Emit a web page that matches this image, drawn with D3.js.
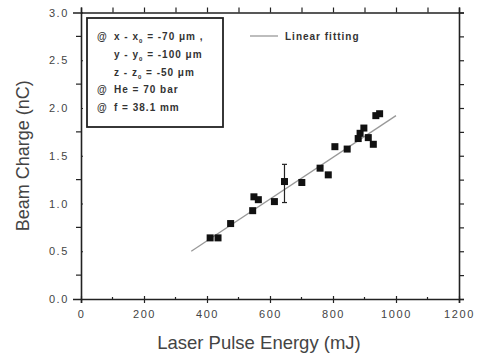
<!DOCTYPE html>
<html>
<head>
<meta charset="utf-8">
<script src="https://cdn.jsdelivr.net/npm/d3@7"></script>
<style>
  body { margin: 0; background: #fff; }
  svg { display: block; }
</style>
</head>
<body>
<div id="vis"></div>
<script>
// measured data (laser energy in mJ, beam charge in nC)
let energy = [410, 435, 475, 545, 549, 563, 614, 646, 701, 759, 785, 806, 845, 880, 886, 898, 912, 928, 936, 948]
let charge = [0.64, 0.64, 0.79, 0.925, 1.07, 1.04, 1.02, 1.23, 1.22, 1.37, 1.30, 1.595, 1.57, 1.68, 1.735, 1.79, 1.69, 1.62, 1.92, 1.94]
// one error bar
let errX = [646]
let errLo = [1.01]
let errHi = [1.41]
// linear fit endpoints
let fitX = [350, 1000]
let fitY = [0.50, 1.92]

let xTicks = [0, 200, 400, 600, 800, 1000, 1200]
let yTicks = [0, 0.5, 1.0, 1.5, 2.0, 2.5, 3.0]
let legendLines = [
  {bullet: true, t: 'x - x', s: '0', r: ' = -70 μm ,'},
  {bullet: false, t: 'y - y', s: '0', r: ' = -100 μm'},
  {bullet: false, t: 'z - z', s: '0', r: ' = -50 μm'},
  {bullet: true, t: 'He = 70 bar', s: '', r: ''},
  {bullet: true, t: 'f = 38.1 mm', s: '', r: ''}
]

let W = 478, H = 355
let margin = {top: 12.5, left: 81, right: 19, bottom: 56}

let svg = d3.select('#vis').append('svg')
  .attr('width', W).attr('height', H)
  .style('font-family', 'Liberation Sans, Arial, sans-serif')

let x = d3.scaleLinear().domain([0, 1200]).range([margin.left, W - margin.right])
let y = d3.scaleLinear().domain([0, 3]).range([H - margin.bottom, margin.top])

let minorX = d3.range(0, 1201, 100)
let minorY = d3.range(0, 3.01, 0.25)
let ink = '#222'
let txt = '#444'

// bottom axis
svg.append('g')
  .attr('transform', `translate(0,${y(0)})`)
  .call(d3.axisBottom(x).tickValues(xTicks).tickSize(4).tickFormat(d3.format('d')))
  .call(g => g.select('.domain').attr('stroke', ink).attr('stroke-width', 1.6))
  .call(g => g.selectAll('.tick line').attr('stroke', ink).attr('y1', -3).attr('stroke-width', 1.2))
  .call(g => g.selectAll('.tick text').attr('fill', txt).attr('font-size', 11).attr('letter-spacing', 1.6).attr('dy', '1.1em'))

svg.append('g').selectAll('line').data(minorX.filter(d => d % 200))
  .join('line')
  .attr('x1', d => x(d)).attr('x2', d => x(d))
  .attr('y1', y(0) - 2).attr('y2', y(0))
  .attr('stroke', ink).attr('stroke-width', 1.2)

// top axis
svg.append('g')
  .attr('transform', `translate(0,${y(3)})`)
  .call(d3.axisTop(x).tickValues(minorX).tickSize(5).tickFormat(''))
  .call(g => g.select('.domain').attr('stroke', ink).attr('stroke-width', 1.6))
  .call(g => g.selectAll('.tick line').attr('stroke', ink).attr('stroke-width', 1.2))

// left axis
svg.append('g')
  .attr('transform', `translate(${x(0)},0)`)
  .call(d3.axisLeft(y).tickValues(yTicks).tickSize(8).tickFormat(d3.format('.1f')))
  .call(g => g.select('.domain').attr('stroke', ink).attr('stroke-width', 1.6))
  .call(g => g.selectAll('.tick line').attr('stroke', ink).attr('x2', 2).attr('stroke-width', 1.2))
  .call(g => g.selectAll('.tick text').attr('fill', txt).attr('font-size', 11).attr('letter-spacing', 1.6).attr('x', -12))

svg.append('g').selectAll('line').data(minorY.filter(d => Math.round(d * 4) % 2))
  .join('line')
  .attr('x1', x(0) - 5).attr('x2', x(0))
  .attr('y1', d => y(d)).attr('y2', d => y(d))
  .attr('stroke', ink).attr('stroke-width', 1.2)

// right axis
svg.append('g')
  .attr('transform', `translate(${x(1200)},0)`)
  .call(d3.axisRight(y).tickValues(minorY).tickSize(5).tickFormat(''))
  .call(g => g.select('.domain').attr('stroke', ink).attr('stroke-width', 1.6))
  .call(g => g.selectAll('.tick line').attr('stroke', ink).attr('stroke-width', 1.2))

// axis titles
svg.append('text')
  .attr('x', x(600) - 11).attr('y', 349)
  .attr('text-anchor', 'middle')
  .attr('font-size', 18.5).attr('fill', txt)
  .text('Laser Pulse Energy (mJ)')

svg.append('text')
  .attr('transform', `translate(29,${(y(0) + y(3)) / 2}) rotate(-90)`)
  .attr('text-anchor', 'middle')
  .attr('font-size', 18).attr('fill', txt)
  .text('Beam Charge (nC)')

// fit line
svg.append('line')
  .attr('x1', x(fitX[0])).attr('y1', y(fitY[0]))
  .attr('x2', x(fitX[1])).attr('y2', y(fitY[1]))
  .attr('stroke', '#999').attr('stroke-width', 1.3)

// error bar
let eb = svg.append('g').attr('stroke', ink).attr('stroke-width', 1.2)
errX.forEach((e, i) => {
  eb.append('line').attr('x1', x(e)).attr('x2', x(e)).attr('y1', y(errLo[i])).attr('y2', y(errHi[i]))
  eb.append('line').attr('x1', x(e) - 2.5).attr('x2', x(e) + 2.5).attr('y1', y(errLo[i])).attr('y2', y(errLo[i]))
  eb.append('line').attr('x1', x(e) - 2.5).attr('x2', x(e) + 2.5).attr('y1', y(errHi[i])).attr('y2', y(errHi[i]))
})

// data squares
let s = 7
svg.append('g').selectAll('rect').data(energy)
  .join('rect')
  .attr('x', (d, i) => x(d) - s / 2)
  .attr('y', (d, i) => y(charge[i]) - s / 2)
  .attr('width', s).attr('height', s)
  .attr('fill', '#111')

// condition box
svg.append('rect')
  .attr('x', 87).attr('y', 18).attr('width', 136).attr('height', 109)
  .attr('fill', 'none').attr('stroke', ink).attr('stroke-width', 1.8)

let lg = svg.append('g').attr('font-size', 10).attr('fill', '#333').attr('font-weight', 'bold')
legendLines.forEach((l, i) => {
  let yy = 40 + i * 17.8
  if (l.bullet) {
    lg.append('text').attr('x', 97).attr('y', yy).text('@')
  }
  let t = lg.append('text').attr('x', 114).attr('y', yy).attr('letter-spacing', 1)
  t.append('tspan').text(l.t)
  if (l.s) t.append('tspan').attr('dy', 3).attr('font-size', 6).text(l.s)
  if (l.r) t.append('tspan').attr('dy', l.s ? -3 : 0).text(l.r)
})

// fit legend
svg.append('line')
  .attr('x1', 250).attr('x2', 278).attr('y1', 36).attr('y2', 36)
  .attr('stroke', '#999').attr('stroke-width', 1.3)
svg.append('text')
  .attr('x', 285).attr('y', 39.5)
  .attr('font-size', 10).attr('font-weight', 'bold').attr('fill', '#333').attr('letter-spacing', 1)
  .text('Linear fitting')
</script>
</body>
</html>
